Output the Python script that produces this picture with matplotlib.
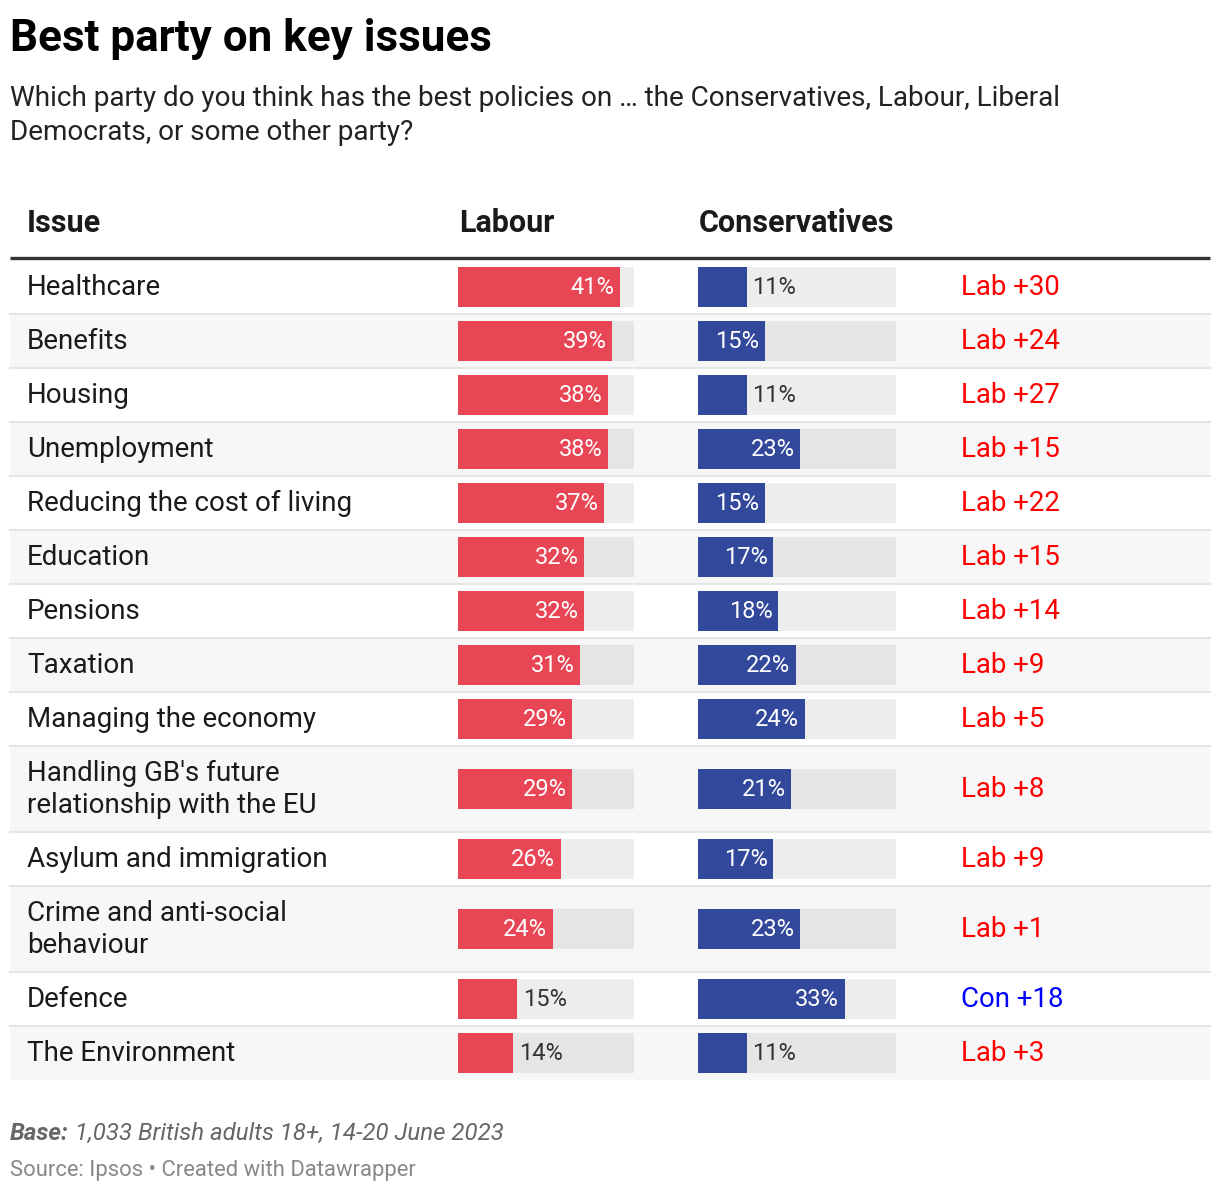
import matplotlib.pyplot as plt
from matplotlib.patches import Rectangle

plt.rcParams['font.family'] = ['Roboto', 'DejaVu Sans']

# data
issues = [
    "Healthcare",
    "Benefits",
    "Housing",
    "Unemployment",
    "Reducing the cost of living",
    "Education",
    "Pensions",
    "Taxation",
    "Managing the economy",
    "Handling GB's future\nrelationship with the EU",
    "Asylum and immigration",
    "Crime and anti-social\nbehaviour",
    "Defence",
    "The Environment",
]
labour = [41, 39, 38, 38, 37, 32, 32, 31, 29, 29, 26, 24, 15, 14]
conservatives = [11, 15, 11, 23, 15, 17, 18, 22, 24, 21, 17, 23, 33, 11]
scale_max = 44.6

W, H = 1220, 1192
lab_color = "#e84555"
con_color = "#32489b"

fig = plt.figure(figsize=(W / 100, H / 100), dpi=100)
ax = fig.add_axes([0, 0, 1, 1])
ax.set_xlim(0, W)
ax.set_ylim(H, 0)
ax.axis("off")

# titles
ax.text(10, 51, "Best party on key issues", fontsize=31.7, fontweight="bold",
        color="#000000", va="baseline")
ax.text(10, 106, "Which party do you think has the best policies on \u2026 the Conservatives, Labour, Liberal",
        fontsize=20.1, color="#222222", va="baseline")
ax.text(10, 140, "Democrats, or some other party?", fontsize=20.1, color="#222222", va="baseline")

# header
for x, name in [(27, "Issue"), (459, "Labour"), (699, "Conservatives")]:
    ax.text(x, 232, name, fontsize=22, fontweight="bold", color="#1a1a1a", va="baseline")
ax.plot([10, 1210], [258, 258], color="#333333", lw=2.4, solid_capstyle="butt")

# rows
top = 259.5
centers = []
for i, issue in enumerate(issues):
    h = 86 if "\n" in issue else 54
    if i % 2 == 1:
        ax.add_patch(Rectangle((10, top), 1200, h, color="#f7f7f7", lw=0, zorder=0))
    if i > 0:
        ax.plot([10, 1210], [top, top], color="#e6e6e6", lw=1.6, zorder=1)
    c = top + h / 2
    centers.append(c)
    ax.text(27, c + 1, issue, fontsize=20, color="#1a1a1a", va="center", linespacing=1.2)
    diff = labour[i] - conservatives[i]
    if diff >= 0:
        ax.text(961, c + 1, f"Lab +{diff}", fontsize=19.9, color="#ff0000", va="center")
    else:
        ax.text(961, c + 1, f"Con +{-diff}", fontsize=19.9, color="#0000ff", va="center")
    top += h


def bar_column(x0, width, values, color):
    bax = fig.add_axes([x0 / W, 0, width / W, 1])
    bax.set_xlim(0, scale_max)
    bax.set_ylim(H, 0)
    bax.axis("off")
    bax.barh(centers, [scale_max] * len(values), height=40, color="black", alpha=0.07, lw=0)
    bax.barh(centers, values, height=40, color=color, lw=0)
    px_per = width / scale_max
    for y, v in zip(centers, values):
        if v * px_per >= 64:
            bax.annotate(f"{v}%", xy=(v, y + 1), xytext=(-4, 0), textcoords="offset points",
                         ha="right", va="center", fontsize=17, color="white")
        else:
            bax.annotate(f"{v}%", xy=(v, y + 1), xytext=(4, 0), textcoords="offset points",
                         ha="left", va="center", fontsize=17, color="#333333")


bar_column(458, 176, labour, lab_color)
bar_column(698, 198, conservatives, con_color)

# footer
renderer = fig.canvas.get_renderer()
t = ax.text(10, 1140, "Base:", fontsize=17.3, fontweight="bold", fontstyle="italic",
            color="#666666", va="baseline")
bb = t.get_window_extent(renderer)
x_end = ax.transData.inverted().transform((bb.x1, bb.y0))[0]
ax.text(x_end + 6, 1140, "1,033 British adults 18+, 14-20 June 2023", fontsize=17.3,
        fontstyle="italic", color="#666666", va="baseline")
ax.text(10, 1176, "Source: Ipsos \u2022 Created with Datawrapper", fontsize=15.8,
        color="#888888", va="baseline")

fig.savefig("out.png", dpi=100, facecolor="white")
